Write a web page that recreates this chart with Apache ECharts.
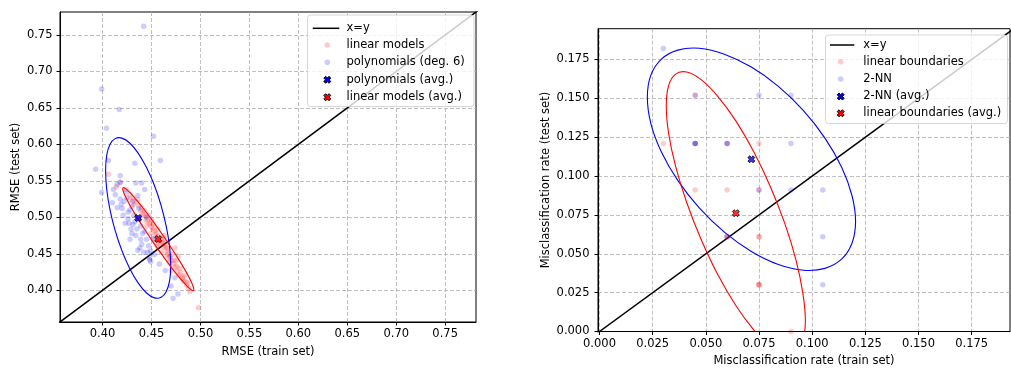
<!DOCTYPE html>
<html><head><meta charset="utf-8">
<script src="https://cdn.jsdelivr.net/npm/echarts@6/dist/echarts.min.js"></script>
<style>html,body{margin:0;padding:0;background:#fff}#c{width:1011px;height:372px}</style>
</head><body><div id="c"></div>
<script>
// ---------- left panel (regression) ----------
const leftTicks = [0.40, 0.45, 0.50, 0.55, 0.60, 0.65, 0.70, 0.75];
const leftDiag = [0.30, 0.80];
const linearModels = [
  [0.406,0.559],[0.414,0.542],[0.418,0.548],[0.424,0.538],[0.428,0.531],[0.431,0.527],[0.433,0.521],
  [0.436,0.524],[0.437,0.516],[0.440,0.513],[0.441,0.506],[0.443,0.509],[0.444,0.501],[0.446,0.497],
  [0.447,0.503],[0.449,0.493],[0.450,0.487],[0.452,0.490],[0.453,0.482],[0.455,0.478],[0.456,0.484],
  [0.457,0.474],[0.458,0.469],[0.460,0.472],[0.461,0.464],[0.462,0.459],[0.464,0.462],[0.465,0.454],
  [0.466,0.448],[0.467,0.457],[0.468,0.445],[0.470,0.441],[0.471,0.449],[0.472,0.436],[0.474,0.432],
  [0.475,0.440],[0.476,0.426],[0.478,0.421],[0.479,0.430],[0.481,0.416],[0.483,0.412],[0.484,0.420],
  [0.486,0.407],[0.488,0.403],[0.489,0.398],[0.498,0.376],[0.474,0.458],[0.449,0.478],[0.455,0.465],
  [0.463,0.475],[0.445,0.488],[0.438,0.500],[0.470,0.427],[0.460,0.452],[0.452,0.470],
  [0.432,0.518],[0.439,0.509],[0.442,0.503],[0.448,0.491],[0.451,0.484],[0.454,0.476],[0.457,0.468],
  [0.459,0.463],[0.462,0.466],[0.465,0.459],[0.467,0.450],[0.469,0.446],[0.473,0.441],[0.476,0.433],
  [0.480,0.424],[0.482,0.418],[0.485,0.412],[0.487,0.410],[0.477,0.447],[0.463,0.470],[0.450,0.497],
  [0.444,0.495],[0.456,0.460],[0.468,0.438],[0.428,0.524]
];
const polynomials = [
  [0.442,0.762],[0.399,0.676],[0.417,0.648],[0.404,0.622],[0.452,0.611],[0.393,0.566],[0.406,0.578],
  [0.459,0.578],[0.433,0.574],[0.418,0.557],[0.399,0.534],[0.415,0.545],[0.434,0.547],[0.440,0.547],
  [0.443,0.538],[0.418,0.548],[0.413,0.531],[0.418,0.525],[0.425,0.527],[0.415,0.513],[0.420,0.512],
  [0.426,0.507],[0.430,0.515],[0.423,0.492],[0.427,0.492],[0.429,0.484],[0.437,0.497],[0.439,0.488],
  [0.443,0.481],[0.434,0.475],[0.439,0.470],[0.440,0.463],[0.447,0.461],[0.449,0.454],[0.453,0.449],
  [0.448,0.445],[0.449,0.439],[0.458,0.436],[0.464,0.427],[0.452,0.471],[0.474,0.417],[0.477,0.395],
  [0.472,0.389],[0.470,0.406],[0.448,0.442],[0.410,0.520],[0.421,0.503],[0.432,0.503],[0.428,0.470],
  [0.436,0.455],[0.445,0.500],[0.411,0.538],[0.424,0.535],[0.431,0.522],[0.437,0.512],
  [0.426,0.498],[0.431,0.490],[0.435,0.484],[0.433,0.494],[0.441,0.478],[0.428,0.510],[0.419,0.518],
  [0.445,0.470],[0.438,0.458],[0.442,0.452],[0.446,0.452],[0.422,0.522],[0.436,0.530],[0.430,0.478]
];
const polyAvg = [0.4363, 0.4991];
const linearAvg = [0.4569, 0.4702];
const polyEllipse = [
  [0.4363,0.4101],[0.4277,0.4300],[0.4197,0.4546],[0.4128,0.4821],[0.4075,0.5109],[0.4042,0.5389],
  [0.4031,0.5641],[0.4042,0.5849],[0.4075,0.5999],[0.4128,0.6079],[0.4197,0.6086],[0.4277,0.6019],
  [0.4363,0.5881],[0.4449,0.5682],[0.4530,0.5436],[0.4598,0.5161],[0.4651,0.4873],[0.4685,0.4593],
  [0.4696,0.4341],[0.4685,0.4133],[0.4651,0.3984],[0.4598,0.3903],[0.4530,0.3896],[0.4449,0.3963]
];
const linearEllipse = [
  [0.4620,0.4747],[0.4525,0.4928],[0.4433,0.5094],[0.4350,0.5232],[0.4283,0.5335],[0.4234,0.5394],
  [0.4209,0.5406],[0.4208,0.5370],[0.4232,0.5288],[0.4279,0.5166],[0.4346,0.5013],[0.4427,0.4839],
  [0.4519,0.4654],[0.4614,0.4474],[0.4706,0.4308],[0.4788,0.4170],[0.4856,0.4067],[0.4904,0.4008],
  [0.4930,0.3996],[0.4930,0.4032],[0.4907,0.4114],[0.4860,0.4235],[0.4793,0.4389],[0.4711,0.4563]
];

// ---------- right panel (classification) ----------
const rightTicks = [0.000, 0.025, 0.050, 0.075, 0.100, 0.125, 0.150, 0.175];
const rightDiag = [-0.01, 0.21];
const linearBoundaries = [
  [0.030,0.121],[0.045,0.152],[0.045,0.121],[0.060,0.121],[0.075,0.121],[0.045,0.091],
  [0.060,0.091],[0.075,0.091],[0.060,0.061],[0.060,0.061],[0.075,0.061],[0.075,0.061],
  [0.075,0.030],[0.075,0.030],[0.075,0.030],[0.090,0.000]
];
const twoNN = [
  [0.030,0.182],[0.045,0.152],[0.075,0.152],[0.090,0.152],[0.045,0.121],[0.045,0.121],
  [0.045,0.121],[0.060,0.121],[0.060,0.121],[0.090,0.121],[0.075,0.091],[0.090,0.091],
  [0.105,0.091],[0.105,0.061],[0.105,0.030],[0.060,0.061]
];
const twoNNAvg = [0.0714, 0.1108];
const linearBoundAvg = [0.0641, 0.0761];
const twoNNEllipse = [
  [0.0714,0.0515],[0.0587,0.0639],[0.0469,0.0795],[0.0368,0.0972],[0.0290,0.1158],[0.0241,0.1341],
  [0.0225,0.1508],[0.0241,0.1648],[0.0290,0.1751],[0.0368,0.1810],[0.0469,0.1822],[0.0587,0.1784],
  [0.0714,0.1701],[0.0841,0.1577],[0.0959,0.1421],[0.1060,0.1244],[0.1138,0.1058],[0.1187,0.0875],
  [0.1204,0.0708],[0.1187,0.0568],[0.1138,0.0465],[0.1060,0.0406],[0.0959,0.0394],[0.0841,0.0431]
];
const linearBoundEllipse = [
  [0.0641,0.0167],[0.0556,0.0366],[0.0478,0.0592],[0.0410,0.0830],[0.0358,0.1062],[0.0325,0.1275],
  [0.0314,0.1452],[0.0325,0.1582],[0.0358,0.1656],[0.0410,0.1669],[0.0478,0.1620],[0.0556,0.1513],
  [0.0641,0.1355],[0.0726,0.1155],[0.0804,0.0930],[0.0872,0.0692],[0.0924,0.0459],[0.0956,0.0247],
  [0.0968,0.0070],[0.0956,-0.0060],[0.0924,-0.0134],[0.0872,-0.0147],[0.0804,-0.0099],[0.0726,0.0009]
];

// ---------- styling / helpers ----------
const FONT = 'DejaVu Sans';
const FS = 11.5;
const X_PATH = 'path://M0,2.6L2.6,0L5,2.4L7.4,0L10,2.6L7.6,5L10,7.4L7.4,10L5,7.6L2.6,10L0,7.4L2.4,5Z';

function axisCommon(ticks, digits, min, max, gridIndex, name, nameGap, labelMargin) {
  return {
    type: 'value', gridIndex, min, max, name, nameLocation: 'middle', nameGap,
    nameTextStyle: { fontFamily: FONT, fontSize: FS, color: '#000' },
    axisLine: { show: true, onZero: false, lineStyle: { color: '#000', width: 1 } },
    axisTick: { show: true, length: 3.5, customValues: ticks, lineStyle: { color: '#000', width: 1 } },
    axisLabel: { show: true, customValues: ticks, margin: labelMargin, fontFamily: FONT, fontSize: FS, color: '#000',
                 formatter: v => Number(v).toFixed(digits) },
    splitLine: { show: true, lineStyle: { color: '#b0b0b0', width: 0.8, type: [4, 2] } }
  };
}

// closed smooth outline through the read outline points, placed by the axes (api.coord)
function ellipseSeries(pts, color, idx) {
  return {
    type: 'custom', xAxisIndex: idx, yAxisIndex: idx, data: pts, encode: { x: 0, y: 1 },
    clip: true, silent: true, z: 4,
    renderItem: (params, api) => {
      if (params.dataIndex !== 0) return null;
      const points = pts.map(p => api.coord(p));
      return { type: 'polygon', shape: { points, smooth: 0.33 },
               style: { fill: 'none', stroke: color, lineWidth: 1.1 } };
    }
  };
}

function xMarkerPoints(cx, cy, s) {
  const p = [[0,2.6],[2.6,0],[5,2.4],[7.4,0],[10,2.6],[7.6,5],[10,7.4],[7.4,10],[5,7.6],[2.6,10],[0,7.4],[2.4,5]];
  return p.map(q => [cx + (q[0]-5)*s/10, cy + (q[1]-5)*s/10]);
}

function legend(box, lineX, markX, textX, rowsY, labels, colors) {
  const els = [];
  els.push({ type: 'rect', z: 100, shape: { x: box[0], y: box[1], width: box[2], height: box[3], r: 3 },
             style: { fill: 'rgba(255,255,255,0.8)', stroke: 'rgba(204,204,204,0.8)', lineWidth: 1 } });
  els.push({ type: 'line', z: 101, shape: { x1: lineX[0], y1: rowsY[0], x2: lineX[1], y2: rowsY[0] },
             style: { stroke: '#000', lineWidth: 1.5 } });
  els.push({ type: 'circle', z: 101, shape: { cx: markX, cy: rowsY[1], r: 2.8 }, style: { fill: 'rgba(255,0,0,0.2)' } });
  els.push({ type: 'circle', z: 101, shape: { cx: markX, cy: rowsY[2], r: 2.8 }, style: { fill: 'rgba(0,0,255,0.2)' } });
  els.push({ type: 'polygon', z: 101, shape: { points: xMarkerPoints(markX, rowsY[3], 7) }, style: { fill: colors[0], stroke: '#000', lineWidth: 1 } });
  els.push({ type: 'polygon', z: 101, shape: { points: xMarkerPoints(markX, rowsY[4], 7) }, style: { fill: colors[1], stroke: '#000', lineWidth: 1 } });
  labels.forEach((t, i) => {
    els.push({ type: 'text', z: 101, style: { text: t, x: textX, y: rowsY[i], fill: '#000',
               font: FS + 'px "' + FONT + '"', verticalAlign: 'middle', align: 'left' } });
  });
  return els;
}

const chart = echarts.init(document.getElementById('c'), null, { renderer: 'canvas' });

const scatterStyle = (c) => ({ color: c, opacity: 0.2 });

chart.setOption({
  animation: false,
  backgroundColor: '#fff',
  textStyle: { fontFamily: FONT },
  grid: [
    { left: 60, top: 12, width: 416, height: 310, show: true, borderColor: '#000', borderWidth: 1 },
    { left: 598, top: 28.7, width: 412, height: 308.6, show: true, borderColor: '#000', borderWidth: 1 }
  ],
  xAxis: [
    axisCommon(leftTicks, 2, 0.3565, 0.7815, 0, 'RMSE (train set)', 24, 6.5),
    axisCommon(rightTicks, 3, -0.0007, 0.193, 1, 'Misclassification rate (train set)', 23.5, 6.5)
  ],
  yAxis: [
    axisCommon(leftTicks, 2, 0.3565, 0.7815, 0, 'RMSE (test set)', 38, 7.5),
    axisCommon(rightTicks, 3, 0, 0.1948, 1, 'Misclassification rate (test set)', 46, 8.5)
  ],
  series: [
    { type: 'line', xAxisIndex: 0, yAxisIndex: 0, data: [[leftDiag[0], leftDiag[0]], [leftDiag[1], leftDiag[1]]],
      symbol: 'none', clip: true, lineStyle: { color: '#000', width: 1.5 }, z: 2, silent: true },
    { type: 'scatter', xAxisIndex: 0, yAxisIndex: 0, data: linearModels, symbolSize: 5.5, itemStyle: scatterStyle('#ff0000'), z: 3, silent: true },
    { type: 'scatter', xAxisIndex: 0, yAxisIndex: 0, data: polynomials, symbolSize: 5.5, itemStyle: scatterStyle('#0000ff'), z: 3, silent: true },
    ellipseSeries(polyEllipse, '#0000ff', 0),
    ellipseSeries(linearEllipse, '#ff0000', 0),
    { type: 'scatter', xAxisIndex: 0, yAxisIndex: 0, data: [polyAvg], symbol: X_PATH, symbolSize: 7,
      itemStyle: { color: '#0000ff', borderColor: '#000', borderWidth: 1 }, z: 5, silent: true },
    { type: 'scatter', xAxisIndex: 0, yAxisIndex: 0, data: [linearAvg], symbol: X_PATH, symbolSize: 7,
      itemStyle: { color: '#ff0000', borderColor: '#000', borderWidth: 1 }, z: 5, silent: true },

    { type: 'line', xAxisIndex: 1, yAxisIndex: 1, data: [[rightDiag[0], rightDiag[0]], [rightDiag[1], rightDiag[1]]],
      symbol: 'none', clip: true, lineStyle: { color: '#000', width: 1.5 }, z: 2, silent: true },
    { type: 'scatter', xAxisIndex: 1, yAxisIndex: 1, data: linearBoundaries, symbolSize: 5.5, itemStyle: scatterStyle('#ff0000'), z: 3, silent: true },
    { type: 'scatter', xAxisIndex: 1, yAxisIndex: 1, data: twoNN, symbolSize: 5.5, itemStyle: scatterStyle('#0000ff'), z: 3, silent: true },
    ellipseSeries(twoNNEllipse, '#0000ff', 1),
    ellipseSeries(linearBoundEllipse, '#ff0000', 1),
    { type: 'scatter', xAxisIndex: 1, yAxisIndex: 1, data: [twoNNAvg], symbol: X_PATH, symbolSize: 7,
      itemStyle: { color: '#0000ff', borderColor: '#000', borderWidth: 1 }, z: 5, silent: true },
    { type: 'scatter', xAxisIndex: 1, yAxisIndex: 1, data: [linearBoundAvg], symbol: X_PATH, symbolSize: 7,
      itemStyle: { color: '#ff0000', borderColor: '#000', borderWidth: 1 }, z: 5, silent: true }
  ],
  graphic: [
    ...legend([307.5, 15, 166.5, 91.5], [312.7, 339.3], 327.3, 346.5, [28.3, 45, 62.3, 79.8, 97.2],
      ['x=y', 'linear models', 'polynomials (deg. 6)', 'polynomials (avg.)', 'linear models (avg.)'], ['#0000ff', '#ff0000']),
    ...legend([825.5, 35, 182, 88.5], [830, 854.3], 840.7, 863.3, [45, 61.7, 79, 96.5, 113.3],
      ['x=y', 'linear boundaries', '2-NN', '2-NN (avg.)', 'linear boundaries (avg.)'], ['#0000ff', '#ff0000'])
  ]
});
</script>
</body></html>
